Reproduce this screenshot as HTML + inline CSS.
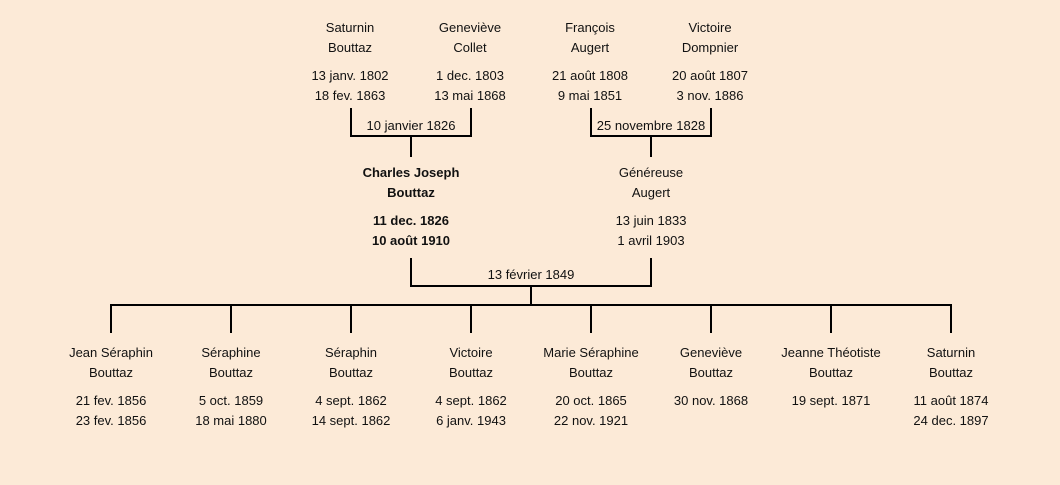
<!DOCTYPE html>
<html><head><meta charset="utf-8"><style>
body{margin:0;width:1060px;height:485px;background:#fcead7;position:relative;overflow:hidden;font-family:"Liberation Sans","DejaVu Sans",sans-serif;font-size:13px;color:#111}
.t{position:absolute;width:140px;text-align:center;line-height:20px;white-space:nowrap;margin-top:1px}
.b{font-weight:bold}
.l{position:absolute;background:#000}
</style></head><body>
<div class="t" style="left:280px;top:17px">Saturnin<br>Bouttaz</div>
<div class="t" style="left:280px;top:65px">13 janv. 1802<br>18 fev. 1863</div>
<div class="t" style="left:400px;top:17px">Geneviève<br>Collet</div>
<div class="t" style="left:400px;top:65px">1 dec. 1803<br>13 mai 1868</div>
<div class="t" style="left:520px;top:17px">François<br>Augert</div>
<div class="t" style="left:520px;top:65px">21 août 1808<br>9 mai 1851</div>
<div class="t" style="left:640px;top:17px">Victoire<br>Dompnier</div>
<div class="t" style="left:640px;top:65px">20 août 1807<br>3 nov. 1886</div>

<div class="l" style="left:350px;top:108px;width:2px;height:29px"></div>
<div class="l" style="left:470px;top:108px;width:2px;height:29px"></div>
<div class="l" style="left:350px;top:135px;width:122px;height:2px"></div>
<div class="l" style="left:410px;top:135px;width:2px;height:22px"></div>
<div class="t" style="left:341px;top:115px">10 janvier 1826</div>

<div class="l" style="left:590px;top:108px;width:2px;height:29px"></div>
<div class="l" style="left:710px;top:108px;width:2px;height:29px"></div>
<div class="l" style="left:590px;top:135px;width:122px;height:2px"></div>
<div class="l" style="left:650px;top:135px;width:2px;height:22px"></div>
<div class="t" style="left:581px;top:115px">25 novembre 1828</div>

<div class="t b" style="left:341px;top:162px">Charles Joseph<br>Bouttaz</div>
<div class="t b" style="left:341px;top:210px">11 dec. 1826<br>10 août 1910</div>
<div class="t" style="left:581px;top:162px">Généreuse<br>Augert</div>
<div class="t" style="left:581px;top:210px">13 juin 1833<br>1 avril 1903</div>

<div class="l" style="left:410px;top:258px;width:2px;height:29px"></div>
<div class="l" style="left:650px;top:258px;width:2px;height:29px"></div>
<div class="l" style="left:410px;top:285px;width:242px;height:2px"></div>
<div class="l" style="left:530px;top:285px;width:2px;height:21px"></div>
<div class="t" style="left:461px;top:264px">13 février 1849</div>
<div class="l" style="left:110px;top:304px;width:842px;height:2px"></div>

<div class="l" style="left:110px;top:304px;width:2px;height:29px"></div>
<div class="l" style="left:230px;top:304px;width:2px;height:29px"></div>
<div class="l" style="left:350px;top:304px;width:2px;height:29px"></div>
<div class="l" style="left:470px;top:304px;width:2px;height:29px"></div>
<div class="l" style="left:590px;top:304px;width:2px;height:29px"></div>
<div class="l" style="left:710px;top:304px;width:2px;height:29px"></div>
<div class="l" style="left:830px;top:304px;width:2px;height:29px"></div>
<div class="l" style="left:950px;top:304px;width:2px;height:29px"></div>

<div class="t" style="left:41px;top:342px">Jean Séraphin<br>Bouttaz</div>
<div class="t" style="left:41px;top:390px">21 fev. 1856<br>23 fev. 1856</div>
<div class="t" style="left:161px;top:342px">Séraphine<br>Bouttaz</div>
<div class="t" style="left:161px;top:390px">5 oct. 1859<br>18 mai 1880</div>
<div class="t" style="left:281px;top:342px">Séraphin<br>Bouttaz</div>
<div class="t" style="left:281px;top:390px">4 sept. 1862<br>14 sept. 1862</div>
<div class="t" style="left:401px;top:342px">Victoire<br>Bouttaz</div>
<div class="t" style="left:401px;top:390px">4 sept. 1862<br>6 janv. 1943</div>
<div class="t" style="left:521px;top:342px">Marie Séraphine<br>Bouttaz</div>
<div class="t" style="left:521px;top:390px">20 oct. 1865<br>22 nov. 1921</div>
<div class="t" style="left:641px;top:342px">Geneviève<br>Bouttaz</div>
<div class="t" style="left:641px;top:390px">30 nov. 1868</div>
<div class="t" style="left:761px;top:342px">Jeanne Théotiste<br>Bouttaz</div>
<div class="t" style="left:761px;top:390px">19 sept. 1871</div>
<div class="t" style="left:881px;top:342px">Saturnin<br>Bouttaz</div>
<div class="t" style="left:881px;top:390px">11 août 1874<br>24 dec. 1897</div>
</body></html>
